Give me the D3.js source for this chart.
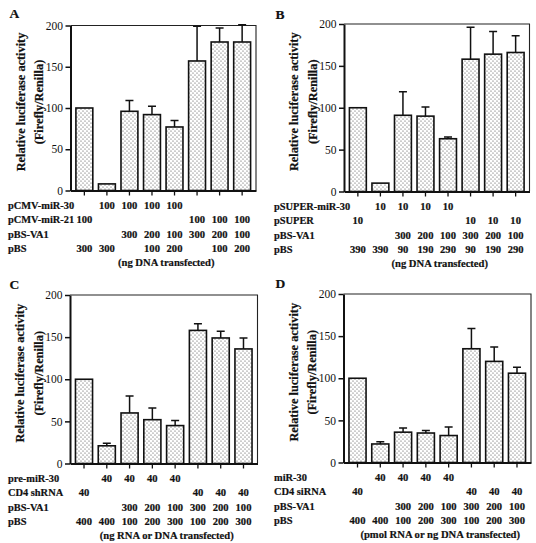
<!DOCTYPE html>
<html><head><meta charset="utf-8">
<script src="https://cdn.jsdelivr.net/npm/d3@7"></script>
<style>body{margin:0;background:#fff}svg{display:block}</style>
</head><body>
<script>
// ---- data ----
const panelLetters = ["A", "B", "C", "D"];
const yTickValues = [0, 50, 100, 150, 200];
const barIds = [0, 1, 2, 3, 4, 5, 6, 7];

const valuesA = [100, 8, 96, 92, 77, 157, 180, 180];
const errorsA = [0, 0, 13, 10, 8, 42, 17, 21];
const valuesB = [100, 10, 91, 90, 63, 158, 164, 166];
const errorsB = [0, 0, 28, 11, 2, 38, 27, 20];
const valuesC = [100, 21, 60, 52, 45, 158, 149, 136];
const errorsC = [0, 3, 20, 14, 6, 8, 8, 13];
const valuesD = [100, 22, 36, 35, 32, 135, 120, 106];
const errorsD = [0, 2.5, 5, 3, 10, 24, 17, 7];

const rowNamesA = ["pCMV-miR-30", "pCMV-miR-21", "pBS-VA1", "pBS"];
const rowsA = [
  ["", "100", "100", "100", "100", "", "", ""],
  ["100", "", "", "", "", "100", "100", "100"],
  ["", "", "300", "200", "100", "300", "200", "100"],
  ["300", "300", "", "100", "200", "", "100", "200"]
];
const rowNamesB = ["pSUPER-miR-30", "pSUPER", "pBS-VA1", "pBS"];
const rowsB = [
  ["", "10", "10", "10", "10", "", "", ""],
  ["10", "", "", "", "", "10", "10", "10"],
  ["", "", "300", "200", "100", "300", "200", "100"],
  ["390", "390", "90", "190", "290", "90", "190", "290"]
];
const rowNamesC = ["pre-miR-30", "CD4 shRNA", "pBS-VA1", "pBS"];
const rowsC = [
  ["", "40", "40", "40", "40", "", "", ""],
  ["40", "", "", "", "", "40", "40", "40"],
  ["", "", "300", "200", "100", "300", "200", "100"],
  ["400", "400", "100", "200", "300", "100", "200", "300"]
];
const rowNamesD = ["miR-30", "CD4 siRNA", "pBS-VA1", "pBS"];
const rowsD = [
  ["", "40", "40", "40", "40", "", "", ""],
  ["40", "", "", "", "", "40", "40", "40"],
  ["", "", "300", "200", "100", "300", "200", "100"],
  ["400", "400", "100", "200", "300", "100", "200", "300"]
];
const captions = [
  "(ng DNA transfected)",
  "(ng DNA transfected)",
  "(ng RNA or DNA transfected)",
  "(pmol RNA or ng DNA transfected)"
];
const yTitle1 = "Relative luciferase activity";
const yTitle2 = "(Firefly/Renilla)";

// ---- layout ----
const layout = [
  {left: 70.5, top: 25.5, bottom: 190.5, right: 256, lx: 8, letterX: 9.5, letterY: 17.5},
  {left: 344, top: 24, bottom: 191.5, right: 529.5, lx: 274, letterX: 275.5, letterY: 19},
  {left: 70, top: 295, bottom: 463.5, right: 257.5, lx: 8, letterX: 9.5, letterY: 288.5},
  {left: 343.5, top: 294, bottom: 462.5, right: 531, lx: 274, letterX: 275.5, letterY: 287.5}
];
const panelData = [
  {values: valuesA, errors: errorsA, rowNames: rowNamesA, rows: rowsA},
  {values: valuesB, errors: errorsB, rowNames: rowNamesB, rows: rowsB},
  {values: valuesC, errors: errorsC, rowNames: rowNamesC, rows: rowsC},
  {values: valuesD, errors: errorsD, rowNames: rowNamesD, rows: rowsD}
];
const rowOffsets = [15, 29, 43.3, 57.5];
const captionOffset = 72;
const serif = "'Liberation Serif','Times New Roman',Times,serif";

const svg = d3.select("body").append("svg").attr("width", 536).attr("height", 543);

const defs = svg.append("defs");
const pat = defs.append("pattern").attr("id", "dots")
  .attr("patternUnits", "userSpaceOnUse").attr("width", 4).attr("height", 4);
pat.append("rect").attr("width", 4).attr("height", 4).attr("fill", "#fff");
pat.append("circle").attr("cx", 1).attr("cy", 1).attr("r", 0.6).attr("fill", "#444");
pat.append("circle").attr("cx", 3).attr("cy", 3).attr("r", 0.6).attr("fill", "#444");

function boldText(sel, size) {
  return sel.attr("font-family", serif).attr("font-weight", "bold").attr("font-size", size)
    .attr("fill", "#111").attr("stroke", "#111").attr("stroke-width", 0.2);
}

panelData.forEach((pd, p) => {
  const L = layout[p];
  const g = svg.append("g");
  const y = d3.scaleLinear().domain([0, 200]).range([L.bottom, L.top]);
  const x = d3.scaleBand().domain(barIds).range([L.left, L.right])
    .paddingInner(0.25).paddingOuter(0.24);
  const bw = x.bandwidth();

  // frame top/right
  g.append("path")
    .attr("d", `M${L.left},${L.top}H${L.right}V${L.bottom}`)
    .attr("fill", "none").attr("stroke", "#222").attr("stroke-width", 1.1);

  // bars
  g.selectAll("rect.bar").data(barIds).enter().append("rect")
    .attr("x", i => x(i)).attr("width", bw)
    .attr("y", i => y(pd.values[i]))
    .attr("height", i => y(0) - y(pd.values[i]))
    .attr("fill", "url(#dots)").attr("stroke", "#111").attr("stroke-width", 1.6);

  // error bars
  const eb = barIds.filter(i => pd.errors[i] > 0);
  g.selectAll("path.err").data(eb).enter().append("path")
    .attr("d", i => {
      const cx = x(i) + bw / 2;
      const y1 = y(pd.values[i]), y2 = y(pd.values[i] + pd.errors[i]);
      return `M${cx},${y1}V${y2}M${cx - 4},${y2}H${cx + 4}`;
    })
    .attr("fill", "none").attr("stroke", "#111").attr("stroke-width", 1.5);

  // y axis
  const ya = g.append("g").attr("transform", `translate(${L.left},0)`)
    .call(d3.axisLeft(y).tickValues(yTickValues).tickSize(5).tickSizeOuter(0).tickPadding(2.5));
  ya.select(".domain").attr("stroke-width", 2).attr("stroke", "#111");
  ya.selectAll(".tick line").attr("stroke-width", 1.5).attr("stroke", "#111");
  ya.selectAll(".tick text").attr("font-family", serif).attr("font-size", 11.5).attr("fill", "#111");

  // x axis
  const xa = g.append("g").attr("transform", `translate(0,${L.bottom})`)
    .call(d3.axisBottom(x).tickSize(5).tickSizeOuter(0).tickFormat(""));
  xa.select(".domain").attr("stroke-width", 2).attr("stroke", "#111");
  xa.selectAll(".tick line").attr("stroke-width", 1.3).attr("stroke", "#111");

  // y title
  const cy = (L.top + L.bottom) / 2 - 6;
  [[yTitle1, L.left - 50], [yTitle2, L.left - 31.5]].forEach(([t, cx]) => {
    boldText(g.append("text").text(t)
      .attr("transform", `translate(${cx},${cy}) rotate(-90)`)
      .attr("dy", "0.35em").attr("text-anchor", "middle"), 12.3);
  });

  // panel letter
  boldText(g.append("text").text(panelLetters[p]).attr("x", L.letterX).attr("y", L.letterY), 13.5);

  // row labels
  pd.rowNames.forEach((name, r) => {
    const yy = L.bottom + rowOffsets[r] + 3.8;
    boldText(g.append("text").text(name).attr("x", L.lx).attr("y", yy), 10.4);
    boldText(g.selectAll(null).data(barIds.filter(i => pd.rows[r][i] !== "")).enter().append("text")
      .text(i => pd.rows[r][i])
      .attr("x", i => x(i) + bw / 2).attr("y", yy).attr("text-anchor", "middle"), 10.6);
  });

  boldText(g.append("text").text(captions[p])
    .attr("x", (L.left + L.right) / 2 + 3).attr("y", L.bottom + captionOffset + 3.8)
    .attr("text-anchor", "middle"), 10.6);
});
</script>
</body></html>
